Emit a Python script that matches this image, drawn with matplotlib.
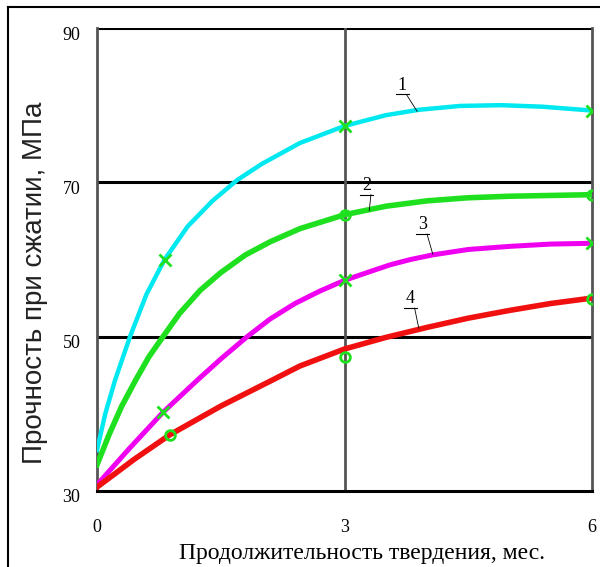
import matplotlib.pyplot as plt
import matplotlib.transforms as mtransforms
from matplotlib.lines import Line2D

# Кривые прочности
x1 = [0, 0.1, 0.22, 0.4, 0.6, 0.82, 1.1, 1.4, 1.7, 2.0, 2.46, 3.0, 3.5, 3.9, 4.4, 4.9, 5.4, 6.0]
y1 = [35.3, 40.0, 44.4, 50.0, 55.5, 60.0, 64.3, 67.6, 70.3, 72.4, 75.1, 77.3, 78.7, 79.4, 79.9, 80.0, 79.8, 79.3]

x2 = [0, 0.15, 0.3, 0.47, 0.63, 0.8, 1.0, 1.25, 1.5, 1.8, 2.1, 2.46, 3.0, 3.5, 4.0, 4.5, 5.0, 5.5, 6.0]
y2 = [33.4, 37.4, 41.0, 44.4, 47.4, 50.0, 53.0, 56.0, 58.3, 60.6, 62.3, 64.0, 65.8, 66.9, 67.6, 68.0, 68.2, 68.3, 68.4]

x3 = [0, 0.4, 0.8, 1.22, 1.5, 1.82, 2.1, 2.4, 2.7, 3.0, 3.3, 3.55, 3.8, 4.07, 4.5, 5.0, 5.5, 6.0]
y3 = [30.8, 35.6, 40.2, 44.4, 47.1, 50.0, 52.3, 54.3, 55.9, 57.3, 58.4, 59.3, 60.0, 60.6, 61.3, 61.7, 62.0, 62.1]

x4 = [0, 0.45, 0.885, 1.5, 2.13, 2.46, 3.0, 3.5, 4.0, 4.5, 5.0, 5.5, 6.0]
y4 = [30.5, 34.1, 37.3, 41.0, 44.4, 46.2, 48.4, 49.9, 51.2, 52.4, 53.4, 54.3, 55.0]

# экспериментальные точки
mx1, my1 = [0.82, 3, 6], [60.0, 77.3, 79.3]
mx2, my2 = [3, 6], [65.8, 68.4]
mx3, my3 = [0.8, 3, 6], [40.2, 57.3, 62.1]
mx4, my4 = [0.885, 3, 6], [37.3, 47.4, 54.9]

curve_labels = ['1', '2', '3', '4']
label_pos = [(3.7, 81.5), (3.27, 68.5), (3.95, 63.4), (3.8, 53.8)]
leader_end = [(3.88, 79.2), (3.3, 66.3), (4.07, 60.7), (3.9, 51.1)]

yticks = [30, 50, 70, 90]
xticks = [0, 3, 6]

fig = plt.figure(figsize=(6, 5.67), dpi=100)
ax = fig.add_axes([97/600, 76/567, 495/600, 463/567])

cyan, green, magenta, red = '#00e8f0', '#1ee01e', '#f000f0', '#f01010'

ax.plot(x1, y1, color=cyan, lw=3.2, zorder=3)
ax.plot(x2, y2, color=green, lw=4.0, zorder=3)
ax.plot(x3, y3, color=magenta, lw=3.6, zorder=3)
ax.plot(x4, y4, color=red, lw=4.0, zorder=3)

ax.plot(mx1, my1, 'x', color=green, ms=9, mew=2, zorder=4)
ax.plot(mx3, my3, 'x', color=green, ms=9, mew=2, zorder=4)
ax.plot(mx2, my2, 'o', color=green, mfc='none', ms=7, mew=2, zorder=4)
ax.plot(mx4, my4, 'o', color=green, mfc='none', ms=7, mew=2, zorder=4)

# сетка
for yv in [50, 70, 90]:
    ax.axhline(yv, color='black', lw=2.2, zorder=2)
ax.axvline(3, color='#555555', lw=2.0, zorder=2)

ax.set_xlim(0, 6)
ax.set_ylim(30, 90)
for s in ['left', 'right']:
    ax.spines[s].set_color('#555555')
    ax.spines[s].set_linewidth(2.0)
ax.spines['top'].set_visible(False)
ax.spines['bottom'].set_color('black')
ax.spines['bottom'].set_linewidth(2.2)

ax.set_xticks(xticks)
ax.set_yticks(yticks)
ax.tick_params(length=0)
ax.tick_params(axis='y', pad=12)
ax.tick_params(axis='x', pad=20)
for lab in ax.get_xticklabels() + ax.get_yticklabels():
    lab.set_fontfamily('Liberation Serif')
    lab.set_fontsize(13)
off = mtransforms.ScaledTranslation(0, -5/100, fig.dpi_scale_trans)
for lab in ax.get_yticklabels():
    lab.set_transform(lab.get_transform() + off)

# подписи кривых
for t, (lx, ly), (ex, ey) in zip(curve_labels, label_pos, leader_end):
    ax.text(lx, ly, t, fontfamily='Liberation Serif', fontsize=13,
            ha='center', va='bottom', zorder=5)
    ax.plot([lx - 0.08, lx + 0.08], [ly - 0.1, ly - 0.1], color='black', lw=0.8, zorder=5)
    ax.plot([lx + 0.05, ex], [ly - 0.1, ey], color='black', lw=0.6, zorder=5)

fig.text(362/600, 1 - 553/567, 'Продолжительность твердения, мес.',
         fontfamily='Liberation Serif', fontsize=17, ha='center', va='center')
fig.text(35/600, 1 - 283/567, 'Прочность при сжатии, МПа',
         fontfamily='Liberation Sans', fontsize=20, rotation=90,
         ha='center', va='center', color='#222222')

# рамка рисунка
fig.add_artist(Line2D([8/600, 1], [1 - 7/567, 1 - 7/567], color='black', lw=1.5))
fig.add_artist(Line2D([8/600, 8/600], [0, 1 - 7/567], color='black', lw=1.5))

fig.savefig('out.png', dpi=100)
